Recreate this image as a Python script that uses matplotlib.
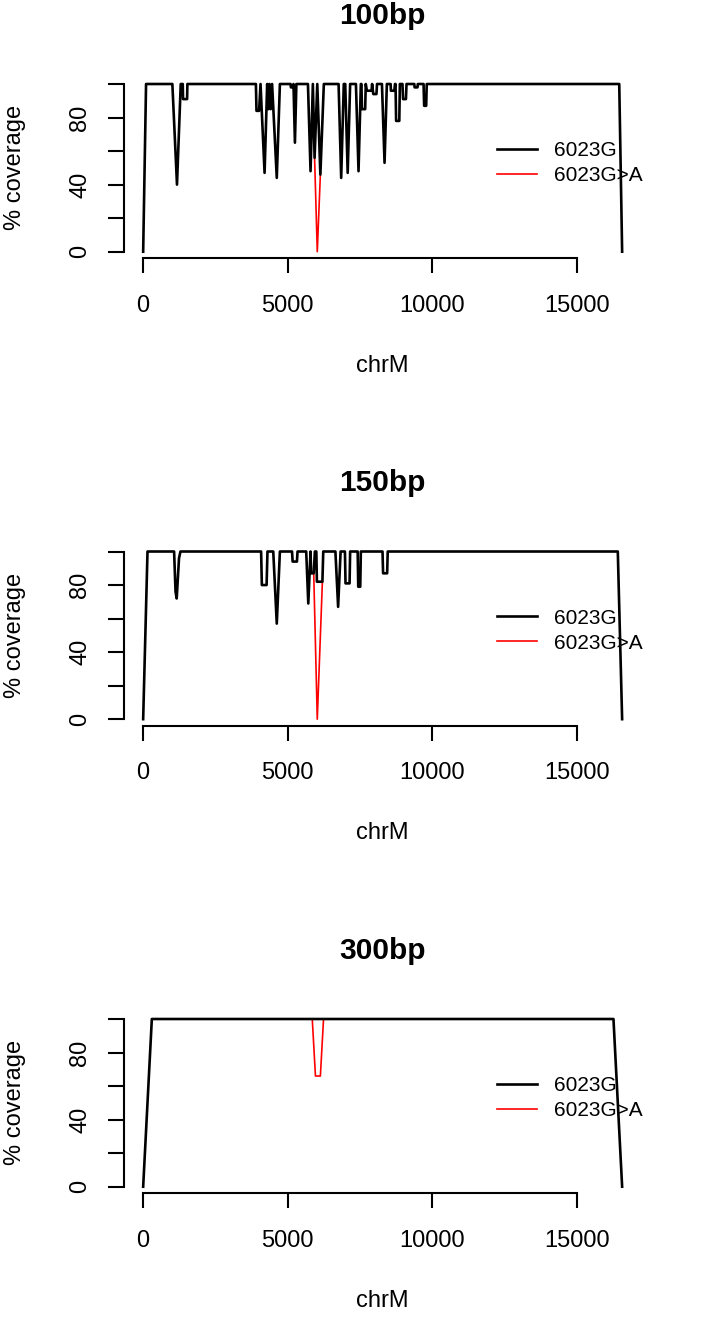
import matplotlib
matplotlib.use("Agg")
import matplotlib.pyplot as plt

plt.rcParams['font.family'] = ['Liberation Sans', 'DejaVu Sans']

titles = ["100bp", "150bp", "300bp"]
legend_labels = ["6023G", "6023G>A"]
x_ticks = [0, 5000, 10000, 15000]
x_tick_labels = ["0", "5000", "10000", "15000"]
y_ticks = [0, 20, 40, 60, 80, 100]
y_tick_labels = ["0", "", "40", "", "80", ""]

# 100bp
pos_100 = [0, 100, 1010, 1170, 1300, 1370, 1380, 1520, 1530,
           3900, 3920, 4010, 4060, 4200, 4290, 4330, 4370, 4410, 4460,
           4622, 4730, 5100, 5110, 5180, 5200, 5250, 5300,
           5700, 5790, 5870, 5930, 6023, 6130, 6250,
           6760, 6850, 6940, 6990, 7075, 7160, 7360, 7450, 7530,
           7550, 7570, 7680, 7700, 7740, 7900, 7920, 7960, 8070, 8090,
           8260, 8350, 8430, 8560, 8570, 8690, 8710, 8730, 8750, 8860, 8880,
           8970, 8990, 9090, 9110, 9380, 9390, 9490, 9500,
           9700, 9720, 9790, 9810, 16469, 16569]
cov_100 = [0, 100, 100, 40, 100, 100, 91, 91, 100,
           100, 84, 84, 100, 47, 100, 85, 100, 85, 100,
           44, 100, 100, 98, 98, 100, 65, 100,
           100, 48, 100, 56, 100, 46, 100,
           100, 44, 100, 100, 47, 100, 100, 48, 100,
           100, 85, 85, 100, 96, 96, 100, 94, 94, 100,
           100, 53, 100, 100, 96, 96, 100, 100, 78, 78, 100,
           100, 91, 91, 100, 100, 98, 98, 100,
           100, 87, 87, 100, 100, 0]
pos_100_alt = [5930, 6023, 6130]
cov_100_alt = [56, 0, 46]

# 150bp
pos_150 = [0, 150, 1070, 1120, 1160, 1240, 1290,
           4080, 4106, 4270, 4300, 4500, 4622, 4730,
           5150, 5170, 5320, 5340, 5640, 5712, 5790, 5810, 5900, 5940,
           5990, 6010, 6200, 6230, 6650, 6744, 6830,
           6980, 7000, 7140, 7160, 7420, 7440, 7510, 7530,
           8280, 8300, 8440, 8460, 16419, 16569]
cov_150 = [0, 100, 100, 76, 72, 96, 100,
           100, 80, 80, 100, 100, 57, 100,
           100, 94, 94, 100, 100, 69, 100, 87, 87, 100,
           100, 82, 82, 100, 100, 67, 100,
           100, 81, 81, 100, 100, 79, 79, 100,
           100, 87, 87, 100, 100, 0]
pos_150_alt = [5900, 6023, 6200]
cov_150_alt = [87, 0, 82]

# 300bp
pos_300 = [0, 300, 16269, 16569]
cov_300 = [0, 100, 100, 0]
pos_300_alt = [5850, 5960, 6130, 6240]
cov_300_alt = [100, 66, 66, 100]

panels = [(pos_100, cov_100, pos_100_alt, cov_100_alt),
          (pos_150, cov_150, pos_150_alt, cov_150_alt),
          (pos_300, cov_300, pos_300_alt, cov_300_alt)]

W, H = 707, 1317
fig = plt.figure(figsize=(W / 100, H / 100), dpi=100)

for i, (px, py, ax_, ay_) in enumerate(panels):
    top = 77.3 + i * 467.5
    bottom = 258.4 + i * 467.5
    ax = fig.add_axes([124 / W, 1 - bottom / H, (641.3 - 124) / W, (bottom - top) / H])

    red, = ax.plot(ax_, ay_, color='red', lw=1.2, zorder=2)
    black, = ax.plot(px, py, color='black', lw=1.9, zorder=3)

    ax.set_xlim(-663, 17232)
    ax.set_ylim(-4, 104)
    ax.spines['top'].set_visible(False)
    ax.spines['right'].set_visible(False)
    ax.spines['left'].set_bounds(0, 100)
    ax.spines['bottom'].set_bounds(0, 15000)
    ax.spines['left'].set_linewidth(1.5)
    ax.spines['bottom'].set_linewidth(1.5)

    ax.set_xticks(x_ticks)
    ax.set_xticklabels(x_tick_labels)
    ax.set_yticks(y_ticks)
    ax.set_yticklabels(y_tick_labels)
    ax.tick_params(axis='x', length=11, width=1.5, labelsize=17, pad=15)
    ax.tick_params(axis='y', length=11.5, width=1.5, labelsize=17, pad=12)
    for lab in ax.get_yticklabels():
        lab.set_rotation(90)
        lab.set_va('center')

    ax.set_xlabel("chrM", fontsize=17, va='center')
    ax.xaxis.set_label_coords(0.5, -0.594)
    ax.set_ylabel("% coverage", fontsize=17, va='center')
    ax.yaxis.set_label_coords(-0.21, 0.5)

    ax.text(0.5, 1.3385, titles[i], transform=ax.transAxes, ha='center', va='center',
            fontsize=21.5, fontweight='bold')

    ax.legend([black, red], legend_labels, loc='center left', bbox_to_anchor=(12250, 52.8),
              bbox_transform=ax.transData, frameon=False, fontsize=15, handlelength=1.9,
              handletextpad=0.8, labelspacing=0.3, borderpad=0, borderaxespad=0)

fig.savefig("out.png", dpi=100)
